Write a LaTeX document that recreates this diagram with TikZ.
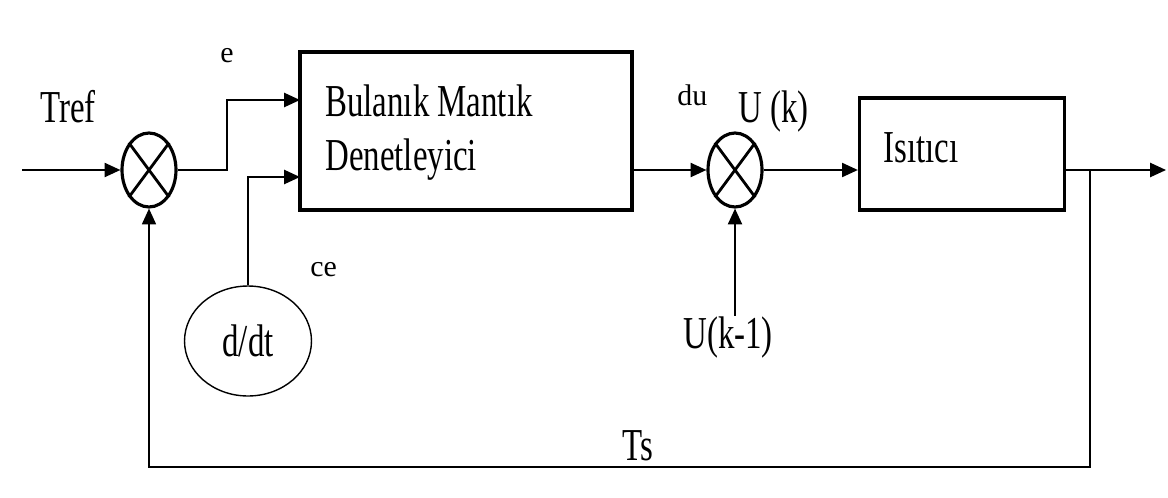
\documentclass[tikz,border=0pt]{standalone}
\usepackage{fontspec}
\setmainfont{Liberation Serif}
\newfontfamily\narrowfnt[FakeStretch=0.72]{Liberation Serif}
\usetikzlibrary{arrows.meta,positioning,calc,shapes.geometric}

\begin{document}
\begin{tikzpicture}[
  x=0.02cm, y=-0.02cm,
  blk/.style={draw, line width=1.9pt, inner sep=0pt},
  sum/.style={draw, ellipse, line width=1.8pt, minimum width=1.08cm,
              minimum height=1.48cm, inner sep=0pt},
  big/.style={font=\narrowfnt\fontsize{26}{31}\selectfont, inner sep=0pt},
  small/.style={font=\fontsize{17}{20}\selectfont, inner sep=0pt},
  arr/.style={-{Triangle[length=9pt,width=8pt]}, line width=1.1pt},
  fb/.style={-{Triangle[length=9pt,width=8pt]}, line width=0.9pt}
]
\useasboundingbox (0,0) rectangle (1168,497);

% blocks
\node[blk, minimum width=6.64cm, minimum height=3.16cm] (fuzzy) at (466,131) {};
\node[blk, minimum width=4.1cm, minimum height=2.24cm] (heater) at (962,154) {};
\node[sum] (sumA) at (149,170) {};
\node[sum] (sumB) at (735,170) {};
\node[draw, ellipse, line width=0.8pt, minimum width=2.54cm,
      minimum height=2.2cm, big] (ddt) at (248,341) {d/dt};
\foreach \s in {sumA,sumB}{
  \draw[line width=1.6pt] (\s.north west) -- (\s.south east)
                          (\s.north east) -- (\s.south west);
}

% texts
\node[big, anchor=north west, align=left] (fuzzyTxt) at (325,84) {Bulanık Mantık\\Denetleyici};
\node[big, anchor=base west] (heaterTxt) at (883,162) {Isıtıcı};
\node[big, anchor=base west] (tref) at (40,122) {Tref};
\node[big, anchor=base west] (uk) at (738,122) {U (k)};
\node[big, anchor=base west] (ukm) at (683,348) {U(k-1)};
\node[big, anchor=base west] (ts) at (622,460) {Ts};
\node[small, anchor=base west] (eLbl) at (220,62) {e};
\node[small, anchor=base west] (ceLbl) at (310,276) {ce};
\node[small, anchor=base west] (duLbl) at (677,105) {du};

% connectors
\coordinate (src) at (22,170);
\coordinate (eIn) at (300,100);
\coordinate (ceIn) at (300,177);
\coordinate (out) at (1166,170);
\coordinate (tap) at (1090,170);

\draw[arr] (src) -- (sumA.west);
\draw[arr] (sumA.east) -- ++(49,0) |- (eIn);
\draw[arr] (ddt.north) |- (ceIn);
\draw[arr] (fuzzy.east |- sumB) -- (sumB.west);
\draw[arr] (sumB.east) -- (sumB -| heater.west);
\draw[arr] (heater.east |- out) -- (out);
\draw[fb] (tap) -- ++(0,297) -| (sumA.south);
\draw[arr] (sumB.south |- ukm.north) -- (sumB.south);
\end{tikzpicture}
\end{document}
